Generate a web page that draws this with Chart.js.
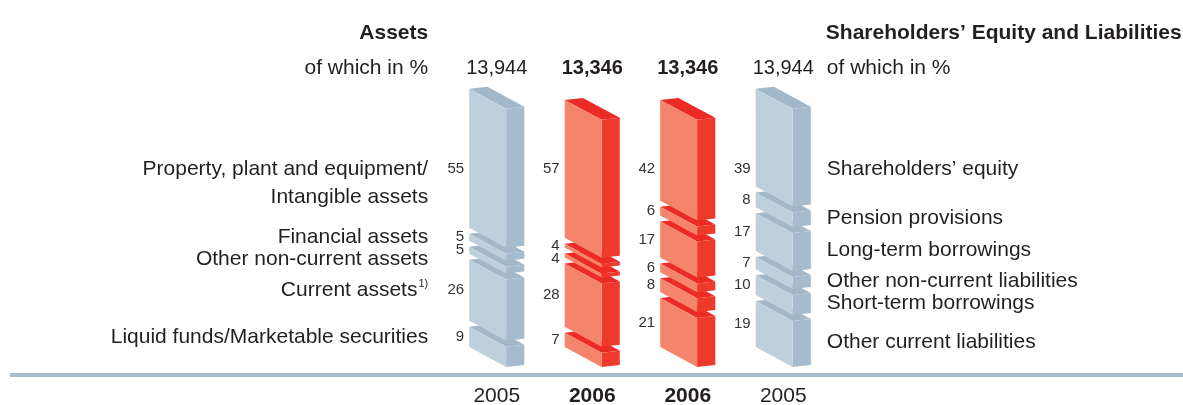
<!DOCTYPE html>
<html>
<head>
  <meta charset="utf-8">
  <title>Assets / Shareholders' Equity and Liabilities</title>
  <script src="https://cdn.jsdelivr.net/npm/chart.js@4"></script>
  <style>
    body { margin: 0; background: #fff; }
    .chart-box { position: relative; width: 1183px; height: 405px; }
  </style>
</head>
<body>
<div class="chart-box">
  <canvas id="balance"></canvas>
</div>

<script>
// data (top segment first)
const years = ['2005', '2006', '2006', '2005'];
const totals = [13944, 13346, 13346, 13944];

const assetNames = [
  ['Property, plant and equipment/', 'Intangible assets'],
  ['Financial assets'],
  ['Other non-current assets'],
  ['Current assets'],
  ['Liquid funds/Marketable securities']
];
const assetNotes = ['', '', '', '1)', ''];
const assets2005 = [55, 5, 5, 26, 9];
const assets2006 = [57, 4, 4, 28, 7];

const liabNames = [
  'Shareholders\u2019 equity',
  'Pension provisions',
  'Long-term borrowings',
  'Other non-current liabilities',
  'Short-term borrowings',
  'Other current liabilities'
];
const liab2006 = [42, 6, 17, 6, 8, 21];
const liab2005 = [39, 8, 17, 7, 10, 19];

const FONT = '"Liberation Sans", Arial, Helvetica, sans-serif';
const TEXT = '#231f20';
const blue = { front: '#bfd0dd', side: '#a6bccd', top: '#a2b7c8' };
const red = { front: '#f4846b', side: '#ee3a2d', top: '#ec2a26' };

// stacked datasets, bottom segment first
const datasets = [];
for (let k = assetNames.length - 1; k >= 0; k--) {
  const pct = [assets2005[k], assets2006[k], null, null];
  datasets.push({
    label: assetNames[k].join(' '),
    pct: pct, side: 'left', row: k,
    data: pct.map((p, i) => p == null ? null : p * totals[i] / 100)
  });
}
for (let k = liabNames.length - 1; k >= 0; k--) {
  const pct = [null, null, liab2006[k], liab2005[k]];
  datasets.push({
    label: liabNames[k],
    pct: pct, side: 'right', row: k,
    data: pct.map((p, i) => p == null ? null : p * totals[i] / 100)
  });
}
datasets.forEach(d => {
  d.backgroundColor = 'rgba(0,0,0,0)';
  d.borderWidth = 0;
  d.stack = 'all';
});

function poly(ctx, pts, color) {
  ctx.beginPath();
  ctx.moveTo(pts[0][0], pts[0][1]);
  for (let i = 1; i < pts.length; i++) ctx.lineTo(pts[i][0], pts[i][1]);
  ctx.closePath();
  ctx.fillStyle = color;
  ctx.fill();
}

// draws the slanted boxes, the numbers and all the side texts
const box3d = {
  id: 'box3d',
  afterDatasetsDraw(chart) {
    const ctx = chart.ctx;
    const area = chart.chartArea;
    const stacks = years.map(() => []);
    chart.data.datasets.forEach((ds, di) => {
      chart.getDatasetMeta(di).data.forEach((el, i) => {
        if (ds.data[i] != null) stacks[i].push({ el: el, ds: ds });
      });
    });

    const gap = 3;
    const geo = [];
    ctx.save();
    stacks.forEach((stack, i) => {
      const pal = years[i] === '2006' ? red : blue;
      const segs = [];
      stack.forEach((s, j) => {
        const el = s.el;
        const w = el.width;
        const x0 = el.x - w / 2;
        const fw = w * 0.67, dx = w - fw;
        const sl = fw * 0.54, dy = -2;
        const top = el.y + (j < stack.length - 1 ? gap : 0);
        const bot = el.base - (j > 0 ? gap : 0);
        const x1 = x0 + fw, x2 = x1 + dx;
        poly(ctx, [[x0, top], [x0 + dx, top + dy], [x2, top + sl + dy], [x1, top + sl]], pal.top);
        poly(ctx, [[x1, top + sl], [x2, top + sl + dy], [x2, bot + sl + dy], [x1, bot + sl]], pal.side);
        poly(ctx, [[x0, top], [x1, top + sl], [x1, bot + sl], [x0, bot]], pal.front);
        segs.unshift({ ds: s.ds, mid: (top + bot) / 2, drop: sl + dy });
      });
      const el = stack[0].el;
      geo.push({ segs: segs, x0: el.x - el.width / 2, x2: el.x + el.width / 2, cx: el.x });
    });

    // first row of labels sits on one line
    const rowY = Math.max.apply(null, geo.map(g => g.segs[0].mid));

    // segment numbers
    ctx.font = '15px ' + FONT;
    ctx.fillStyle = '#333';
    ctx.textAlign = 'right';
    ctx.textBaseline = 'middle';
    geo.forEach((g, i) => {
      let prev = -1e9;
      g.segs.forEach((s, j) => {
        const y = j === 0 ? rowY : Math.max(s.mid, prev + 13);
        prev = y;
        ctx.fillText(String(s.ds.pct[i]), g.x0 - 5, y);
      });
    });

    // category names
    ctx.font = '21px ' + FONT;
    ctx.fillStyle = TEXT;
    const left = geo[0], right = geo[geo.length - 1];
    const lx = left.x0 - 41, rx = right.x2 + 16;
    let prev = -1e9;
    ctx.textAlign = 'right';
    left.segs.forEach((s, j) => {
      const names = assetNames[s.ds.row];
      const y = j === 0 ? rowY : Math.max(s.mid, prev + 22);
      names.forEach((line, li) => {
        const note = li === names.length - 1 ? assetNotes[s.ds.row] : '';
        let xe = lx;
        if (note) {
          ctx.font = '11px ' + FONT;
          const nw = ctx.measureText(note).width;
          ctx.fillText(note, lx, y - 6);
          xe = lx - nw - 1;
          ctx.font = '21px ' + FONT;
        }
        ctx.fillText(line, xe, y + li * 28);
      });
      prev = y + (names.length - 1) * 28;
    });
    prev = -1e9;
    ctx.textAlign = 'left';
    right.segs.forEach((s, j) => {
      const y = j === 0 ? rowY : Math.max(s.mid + s.drop, prev + 22);
      ctx.fillText(liabNames[s.ds.row], rx, y);
      prev = y;
    });

    // headers
    ctx.textBaseline = 'alphabetic';
    ctx.font = 'bold 21px ' + FONT;
    ctx.textAlign = 'right';
    ctx.fillText('Assets', lx, 39);
    ctx.textAlign = 'left';
    ctx.fillText('Shareholders\u2019 Equity and Liabilities', rx - 1, 39);
    ctx.font = '21px ' + FONT;
    ctx.textAlign = 'right';
    ctx.fillText('of which in %', lx, 74);
    ctx.textAlign = 'left';
    ctx.fillText('of which in %', rx, 74);
    ctx.textAlign = 'center';
    geo.forEach((g, i) => {
      ctx.font = (years[i] === '2006' ? 'bold ' : '') + '20px ' + FONT;
      ctx.fillText(totals[i].toLocaleString('en-US'), g.cx, 74);
    });

    // base rule and year labels under it
    ctx.fillStyle = '#a9bece';
    ctx.fillRect(10, area.bottom + 26, chart.width - 10, 4);
    const xs = chart.scales.x;
    ctx.fillStyle = TEXT;
    years.forEach((yr, i) => {
      ctx.font = (yr === '2006' ? 'bold ' : '') + '21px ' + FONT;
      ctx.fillText(yr, xs.getPixelForValue(i), area.bottom + 55);
    });
    ctx.restore();
  }
};

new Chart(document.getElementById('balance'), {
  type: 'bar',
  data: { labels: years, datasets: datasets },
  options: {
    responsive: true,
    maintainAspectRatio: false,
    animation: false,
    events: [],
    layout: { padding: { top: 60, bottom: 58, left: 449, right: 352 } },
    datasets: { bar: { barPercentage: 0.577, categoryPercentage: 1 } },
    plugins: { legend: { display: false }, tooltip: { enabled: false } },
    scales: {
      x: { stacked: true, display: false },
      y: { stacked: true, display: false, min: 0, max: 15500 }
    }
  },
  plugins: [box3d]
});
</script>
</body>
</html>
